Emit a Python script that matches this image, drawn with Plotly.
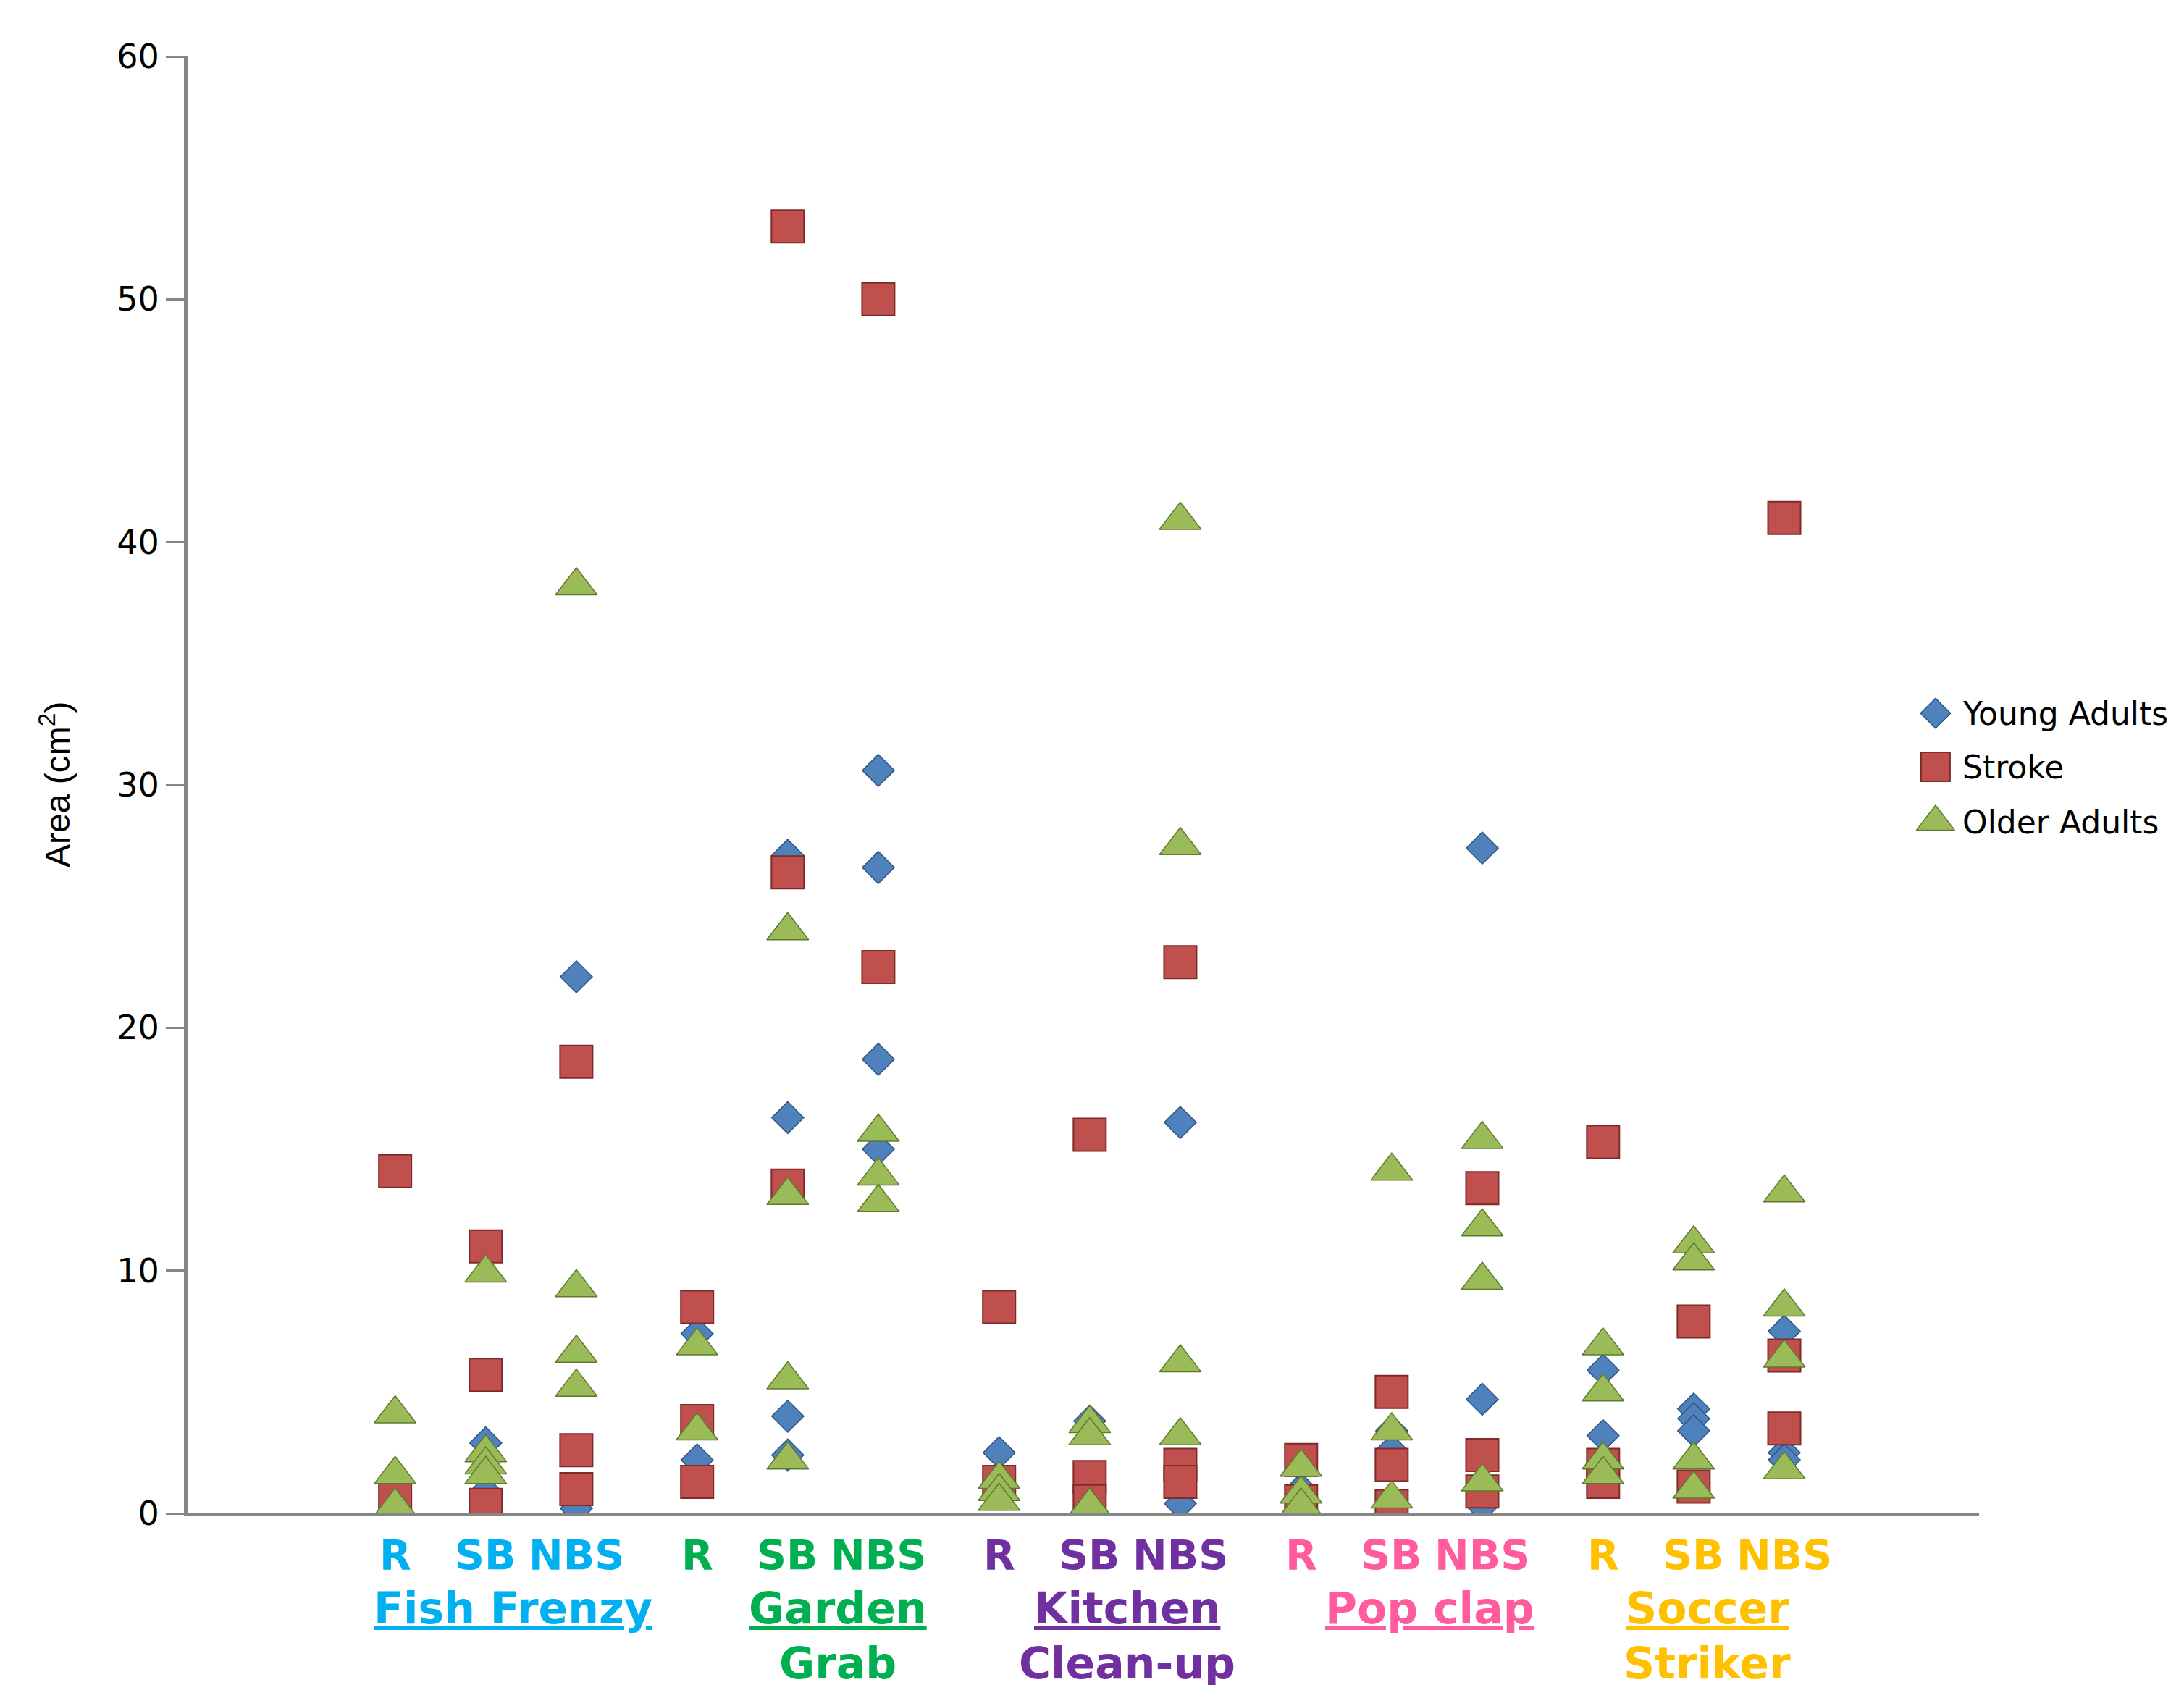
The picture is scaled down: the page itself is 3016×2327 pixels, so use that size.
import plotly.graph_objects as go

# ---------------- data ----------------
games = ["Fish Frenzy", "Garden Grab", "Kitchen Clean-up", "Pop clap", "Soccer Striker"]
game_line1 = ["Fish Frenzy", "Garden", "Kitchen", "Pop clap", "Soccer"]
game_line2 = ["", "Grab", "Clean-up", "", "Striker"]
conditions = ["R", "SB", "NBS"]
series_names = ["Young Adults", "Stroke", "Older Adults"]

# values per condition, in order: FF R, FF SB, FF NBS, GG R, GG SB, GG NBS, KC R, ... SS NBS
young_adults = [
    [],
    [2.9, 0.9],
    [22.1, 0.2],
    [7.4, 2.2],
    [27.1, 16.3, 4.0, 2.4],
    [30.6, 26.6, 18.7, 15.0],
    [2.5],
    [3.8],
    [16.1, 0.4],
    [1.0],
    [3.4, 2.6],
    [27.4, 4.7, 0.3],
    [5.9, 3.2],
    [4.3, 3.9, 3.4],
    [7.5, 2.5, 2.2],
]
stroke = [
    [14.1, 0.7],
    [11.0, 5.7, 0.35],
    [18.6, 2.6, 1.0],
    [8.5, 3.8, 1.3],
    [53.0, 26.4, 13.5],
    [50.0, 22.5],
    [8.5, 1.3],
    [15.6, 1.5, 0.5],
    [22.7, 2.0, 1.3],
    [2.2, 0.5],
    [5.0, 2.0, 0.3],
    [13.4, 2.4, 0.9],
    [15.3, 2.0, 1.3],
    [7.9, 1.1],
    [41.0, 6.5, 3.5],
]
older_adults = [
    [4.1, 1.6, 0.3],
    [9.9, 2.5, 2.0, 1.6],
    [38.2, 9.3, 6.6, 5.2],
    [6.9, 3.4],
    [24.0, 13.1, 5.5, 2.2],
    [15.7, 13.9, 12.8],
    [1.4, 0.9, 0.5],
    [3.7, 3.2, 0.3],
    [40.9, 27.5, 6.2, 3.2],
    [1.9, 0.8, 0.3],
    [14.1, 3.4, 0.6],
    [15.4, 11.8, 9.6, 1.3],
    [6.9, 5.0, 2.2, 1.6],
    [11.1, 10.4, 2.2, 1.0],
    [13.2, 8.5, 6.4, 1.8],
]
y_ticks = [0, 10, 20, 30, 40, 50, 60]

# ---------------- layout constants ----------------
FIRST_X, GROUP_STEP, COND_STEP = 6.85, 10, 3
X_MAX = 59.3
group_label_x = [10.75, 21.5, 31.1, 41.1, 50.3]
group_colors = ["#00B0F0", "#00B050", "#7030A0", "#FF5B9E", "#FFC000"]

styles = [
    dict(symbol="diamond", size=34, color="#4F81BD", line=dict(color="#2F5582", width=1.5)),
    dict(symbol="square", size=45, color="#C0504D", line=dict(color="#7E2B29", width=2)),
    dict(symbol="triangle-up", size=50, color="#9BBB59", line=dict(color="#5F7A2E", width=1.5)),
]

def cond_x(k):
    g, i = divmod(k, 3)
    return FIRST_X + GROUP_STEP * g + COND_STEP * i

fig = go.Figure()
for name, data, st in zip(series_names, [young_adults, stroke, older_adults], styles):
    xs, ys = [], []
    for k, vals in enumerate(data):
        for v in vals:
            xs.append(cond_x(k))
            ys.append(v)
    fig.add_trace(go.Scatter(x=xs, y=ys, mode="markers", name=name, marker=st,
                             showlegend=False))

# custom legend (overlay axes in unit coordinates)
leg_y = [0.5492, 0.5124, 0.4746]
leg_styles = [dict(st) for st in styles]
leg_styles[0]["size"] = 32
leg_styles[1]["size"] = 40
leg_styles[2]["size"] = 46
for name, st, ly in zip(series_names, leg_styles, leg_y):
    fig.add_trace(go.Scatter(x=[0.9757], y=[ly], mode="markers", marker=st,
                             xaxis="x2", yaxis="y2", showlegend=False, cliponaxis=False,
                             hoverinfo="skip"))
    fig.add_annotation(text=name, x=0.9899, y=ly, xref="paper", yref="paper",
                       xanchor="left", yanchor="middle", showarrow=False,
                       font=dict(family="DejaVu Sans", size=44, color="#000000"))

# category labels
for g in range(len(games)):
    for i, c in enumerate(conditions):
        fig.add_annotation(text=c, x=cond_x(g * 3 + i), y=0, xref="x", yref="paper",
                           yshift=-58, xanchor="center", yanchor="middle", showarrow=False,
                           font=dict(family="DejaVu Sans", size=57, weight="bold",
                                     color=group_colors[g]))
    fig.add_annotation(text=game_line1[g], x=group_label_x[g], y=0, xref="x", yref="paper",
                       yshift=-131, xanchor="center", yanchor="middle", showarrow=False,
                       font=dict(family="DejaVu Sans", size=60, weight="bold",
                                 color=group_colors[g], lineposition="under"))
    if game_line2[g]:
        fig.add_annotation(text=game_line2[g], x=group_label_x[g], y=0, xref="x", yref="paper",
                           yshift=-207, xanchor="center", yanchor="middle", showarrow=False,
                           font=dict(family="DejaVu Sans", size=60, weight="bold",
                                     color=group_colors[g]))

# y-axis title
fig.add_annotation(text="Area (cm<sup>2</sup>)", x=0, y=0.5, xref="paper", yref="paper",
                   xshift=-184, textangle=-90, xanchor="center", yanchor="middle",
                   showarrow=False,
                   font=dict(family="Liberation Sans Narrow, Arial Narrow, Liberation Sans",
                             size=48, color="#000000"))

fig.update_layout(
    width=3016, height=2327,
    margin=dict(l=252, r=291, t=70, b=245),
    paper_bgcolor="white", plot_bgcolor="white",
    xaxis=dict(range=[0, X_MAX], showline=True, linecolor="#868686", linewidth=4,
               showticklabels=False, ticks="", showgrid=False, zeroline=False),
    yaxis=dict(range=[0, 60], tickvals=y_ticks, ticks="outside", ticklen=25, tickwidth=3,
               tickcolor="#868686", showline=True, linecolor="#868686", linewidth=6,
               showgrid=False, zeroline=False,
               tickfont=dict(family="DejaVu Sans", size=46, color="#000000")),
    xaxis2=dict(range=[0, 1], overlaying="x", anchor="y2", visible=False),
    yaxis2=dict(range=[0, 1], overlaying="y", anchor="x2", visible=False),
    showlegend=False,
)

fig.write_html("out.html")
